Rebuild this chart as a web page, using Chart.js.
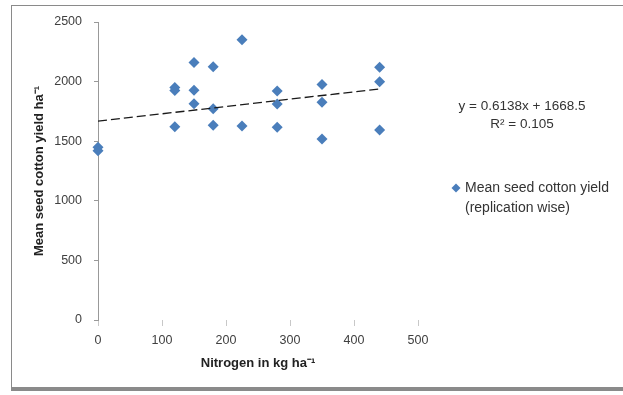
<!DOCTYPE html>
<html>
<head>
<meta charset="utf-8">
<script src="https://cdn.jsdelivr.net/npm/chart.js@4"></script>
<style>
  html, body { margin: 0; padding: 0; background: #fff; }
  #frame {
    position: absolute; left: 11px; top: 5px; width: 640px; height: 381px;
    border-left: 1px solid #8a8a8a; border-top: 1px solid #8a8a8a;
    border-bottom: 4px solid #8a8a8a;
  }
  #wrap { position: absolute; left: 0; top: 0; width: 623px; height: 395px; }
</style>
</head>
<body>
<div id="frame"></div>
<div id="wrap"><canvas id="grafico"></canvas></div>
<script>
// valores
const nitrogen = [0, 0, 120, 120, 120, 150, 150, 150, 180, 180, 180, 225, 225, 280, 280, 280, 350, 350, 350, 440, 440, 440];
const seedYield = [1450, 1420, 1950, 1925, 1622, 2160, 1927, 1815, 2125, 1773, 1633, 2352, 1628, 1921, 1812, 1617, 1975, 1826, 1518, 2120, 1999, 1594];

// linha de tendência (y = 0.6138x + 1668.5)
const trendX = [0, 440];
const trendY = [1668.5, 1938.6];

const equationText = 'y = 0.6138x + 1668.5';
const r2Text = 'R² = 0.105';
const legendLines = ['Mean seed cotton yield', '(replication wise)'];

const azul = '#4a7ebb';
const fonte = '"Liberation Sans", Arial, sans-serif';

const pontos = nitrogen.map((x, i) => ({ x: x, y: seedYield[i] }));
const tendencia = trendX.map((x, i) => ({ x: x, y: trendY[i] }));

// desenha equação e legenda à direita
const extras = {
  id: 'extras',
  afterDraw(chart) {
    const ctx = chart.ctx;
    ctx.save();
    ctx.fillStyle = '#333';
    ctx.font = '13.5px ' + fonte;
    ctx.textAlign = 'center';
    ctx.textBaseline = 'middle';
    ctx.fillText(equationText, 522, 106);
    ctx.fillText(r2Text, 522, 124);

    ctx.fillStyle = azul;
    ctx.beginPath();
    ctx.moveTo(456, 183.5); ctx.lineTo(460.5, 188); ctx.lineTo(456, 192.5); ctx.lineTo(451.5, 188);
    ctx.closePath();
    ctx.fill();

    ctx.fillStyle = '#333';
    ctx.font = '14px ' + fonte;
    ctx.textAlign = 'left';
    ctx.fillText(legendLines[0], 465, 188);
    ctx.fillText(legendLines[1], 465, 208);
    ctx.restore();
  }
};

new Chart(document.getElementById('grafico').getContext('2d'), {
  type: 'scatter',
  data: {
    datasets: [
      {
        label: legendLines.join(' '),
        data: pontos,
        pointStyle: 'rectRot',
        pointRadius: 5.5,
        pointHoverRadius: 5.5,
        backgroundColor: azul,
        borderWidth: 0,
        clip: false,
        order: 2
      },
      {
        label: 'Linear',
        type: 'line',
        data: tendencia,
        borderColor: '#1a1a1a',
        borderWidth: 1.3,
        borderDash: [9, 4],
        pointRadius: 0,
        fill: false,
        order: 1
      }
    ]
  },
  plugins: [extras],
  options: {
    responsive: true,
    maintainAspectRatio: false,
    animation: false,
    layout: { padding: { left: 0, top: 22, right: 205, bottom: 0 } },
    plugins: { legend: { display: false }, tooltip: { enabled: false } },
    scales: {
      x: {
        type: 'linear',
        min: 0, max: 500,
        afterFit: s => { s.height = 75; },
        ticks: { stepSize: 100, padding: 7, color: '#404040', callback: v => String(v), font: { size: 12.5, family: fonte } },
        grid: { drawOnChartArea: false, tickLength: 6, color: '#c8c8c8' },
        border: { display: false },
        title: { display: true, text: 'Nitrogen in kg ha⁻¹', color: '#222', padding: { bottom: 24, top: 0 },
                 font: { size: 13, weight: 'bold', family: fonte } }
      },
      y: {
        min: 0, max: 2500,
        afterFit: s => { s.width = 98; },
        ticks: { stepSize: 500, padding: 12, color: '#404040', callback: v => String(v), font: { size: 12.5, family: fonte } },
        grid: { drawOnChartArea: false, tickLength: 4, color: '#999' },
        border: { display: true, color: '#999', width: 1 },
        title: { display: true, text: 'Mean seed cotton yield ha⁻¹', color: '#222', padding: { top: 32, bottom: 0 },
                 font: { size: 13, weight: 'bold', family: fonte } }
      }
    }
  }
});
</script>
</body>
</html>
